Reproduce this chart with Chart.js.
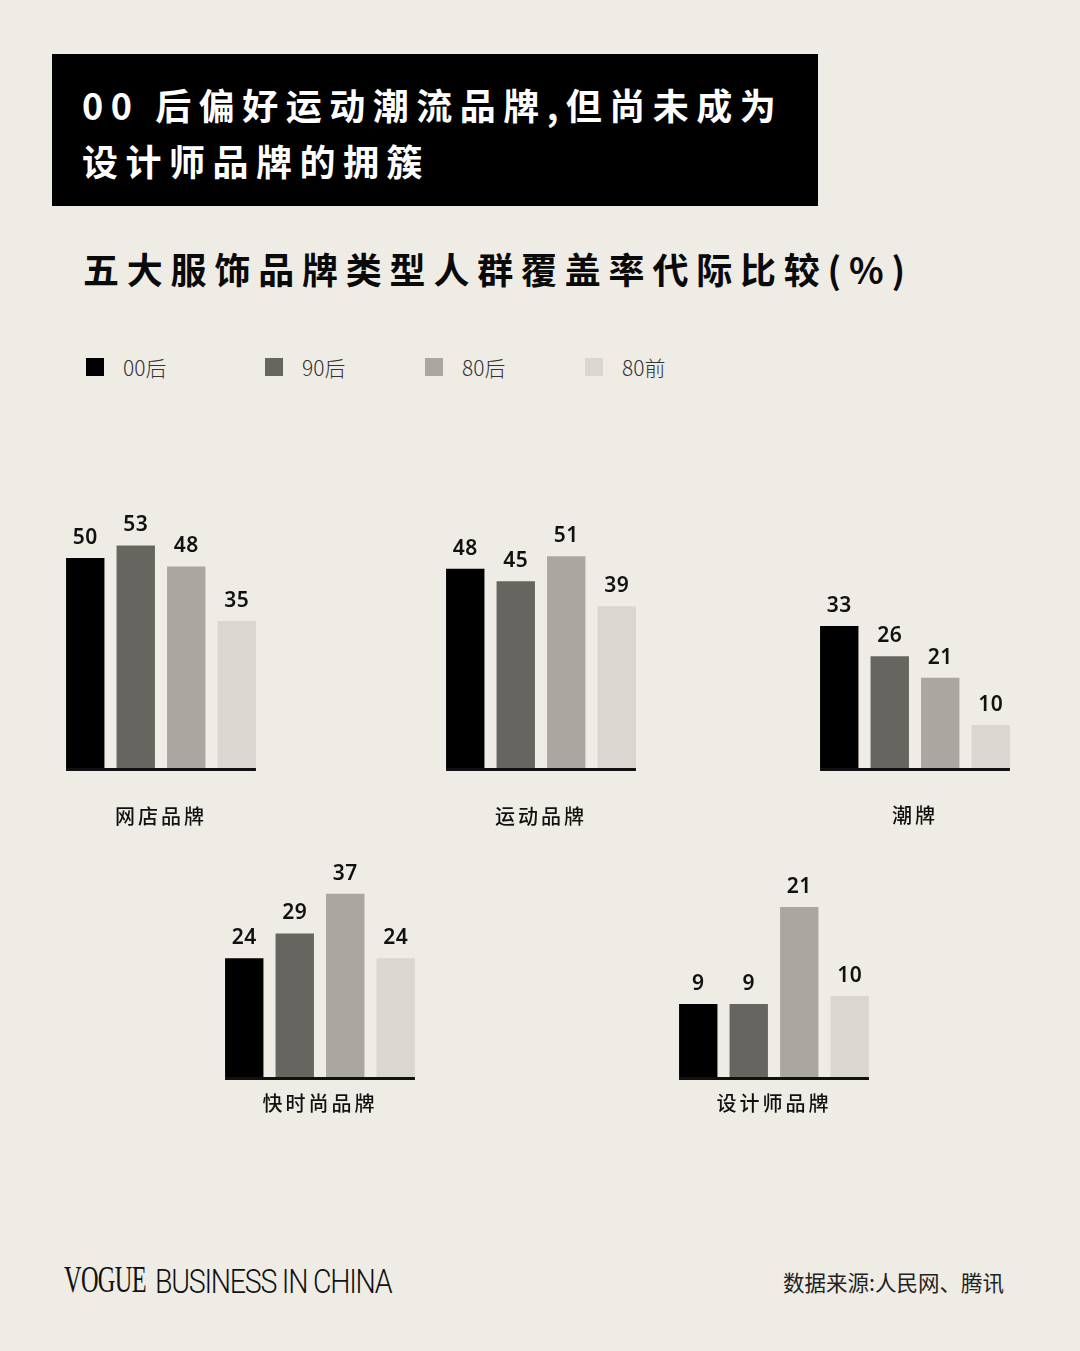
<!DOCTYPE html>
<html>
<head>
<meta charset="utf-8">
<script src="https://cdn.jsdelivr.net/npm/chart.js@4.4.1/dist/chart.umd.min.js"></script>
<style>
  body { margin: 0; width: 1080px; height: 1351px; background: #efece6; position: relative; overflow: hidden;
         font-family: "Noto Sans CJK SC", "Noto Sans", sans-serif; }
  .headline { position: absolute; left: 52px; top: 54px; width: 766px; height: 152px; background: #000; color: #fff; }
  .headline div { position: absolute; left: 30px; font-size: 36px; font-weight: 700; letter-spacing: 7.5px; line-height: 1; white-space: nowrap; }
  .subtitle { position: absolute; left: 83px; top: 250px; font-size: 36px; font-weight: 700; letter-spacing: 7.8px; line-height: 1; color: #0a0a0a; white-space: nowrap; }
  #legend { position: absolute; left: 86px; top: 354px; display: flex; }
  #legend .item { display: flex; align-items: center; width: 160px; }
  #legend .item:first-child { width: 179px; }
  #legend .box { width: 18px; height: 18px; margin-right: 19px; }
  #legend .lbl { font-size: 21px; font-weight: 300; color: #333; line-height: 26px; }
  canvas { position: absolute; }
  .brand { position: absolute; left: 64px; top: 1260px; white-space: nowrap; color: #111; line-height: 1; }
  .vogue { display: inline-block; font-family: "Liberation Serif", serif; font-size: 38px; transform: scaleX(0.64); transform-origin: left; width: 91px; letter-spacing: -1px; vertical-align: bottom; }
  .biz { display: inline-block; font-family: "Roboto", sans-serif; font-weight: 300; font-size: 34px; transform: scaleX(0.84); transform-origin: left; letter-spacing: -1.5px; vertical-align: bottom; }
  .source { position: absolute; right: 76px; top: 1266px; font-size: 21.5px; color: #222; white-space: nowrap; }
</style>
</head>
<body>
<div class="headline">
  <div style="top:32px">00 后偏好运动潮流品牌,但尚未成为</div>
  <div style="top:88px">设计师品牌的拥簇</div>
</div>
<div class="subtitle">五大服饰品牌类型人群覆盖率代际比较(%)</div>
<div id="legend"></div>

<canvas id="c0"></canvas>
<canvas id="c1"></canvas>
<canvas id="c2"></canvas>
<canvas id="c3"></canvas>
<canvas id="c4"></canvas>

<div class="brand"><span class="vogue">VOGUE</span><span class="biz">BUSINESS IN CHINA</span></div>
<div class="source">数据来源:人民网、腾讯</div>

<script>
// generations and brand types
const generations = ["00后", "90后", "80后", "80前"];
const genColors = ["#000000", "#67655f", "#aaa7a0", "#d9d7cf"];
const brandTypes = ["网店品牌", "运动品牌", "潮牌", "快时尚品牌", "设计师品牌"];

// coverage (%) per generation, in brandTypes order
const gen00 = [50, 48, 33, 24, 9];
const gen90 = [53, 45, 26, 29, 9];
const gen80 = [48, 51, 21, 37, 21];
const pre80 = [35, 39, 10, 24, 10];
const series = [gen00, gen90, gen80, pre80];

// where each small chart sits on the page
const panels = [
  { barLeft: 66,  base: 768,  top: 440, ppu: 4.2,  labelGap: 48 },
  { barLeft: 446, base: 768,  top: 440, ppu: 4.15, labelGap: 48 },
  { barLeft: 820, base: 768,  top: 440, ppu: 4.3,  labelGap: 47 },
  { barLeft: 225, base: 1077, top: 850, ppu: 4.95, labelGap: 26 },
  { barLeft: 679, base: 1077, top: 850, ppu: 8.1,  labelGap: 26 },
];

// legend
const legendEl = document.getElementById("legend");
generations.forEach((g, i) => {
  const item = document.createElement("div");
  item.className = "item";
  item.innerHTML = `<span class="box" style="background:${genColors[i]}"></span><span class="lbl">${g}</span>`;
  legendEl.appendChild(item);
});

const valueLabels = {
  id: "valueLabels",
  beforeDraw(chart) {
    chart.ctx.letterSpacing = "3px";
  },
  afterDatasetsDraw(chart) {
    const ctx = chart.ctx;
    ctx.save();
    ctx.letterSpacing = "0.5px";
    ctx.font = '600 21px "Noto Sans", sans-serif';
    ctx.fillStyle = "#111";
    ctx.textAlign = "center";
    ctx.textBaseline = "middle";
    let left = Infinity, right = -Infinity;
    chart.data.datasets.forEach((ds, i) => {
      chart.getDatasetMeta(i).data.forEach((bar, j) => {
        ctx.fillText(ds.data[j], bar.x, bar.y - 20);
        left = Math.min(left, bar.x - bar.width / 2);
        right = Math.max(right, bar.x + bar.width / 2);
      });
    });
    // baseline under the bars
    const y0 = chart.scales.y.getPixelForValue(0);
    ctx.fillStyle = "#111";
    ctx.fillRect(left, y0, right - left, 3);
    ctx.restore();
    ctx.letterSpacing = "3px";
  },
};

Chart.defaults.font.family = '"Noto Sans CJK SC", "Noto Sans", sans-serif';

panels.forEach((p, k) => {
  const canvas = document.getElementById("c" + k);
  const areaH = p.base - p.top;
  const pad = p.labelGap - 12;
  canvas.width = 242;
  canvas.height = areaH + 24 + pad * 2;
  canvas.style.left = (p.barLeft - 26) + "px";
  canvas.style.top = p.top + "px";

  new Chart(canvas, {
    type: "bar",
    data: {
      labels: [brandTypes[k]],
      datasets: series.map((s, i) => ({
        label: generations[i],
        data: [s[k]],
        backgroundColor: genColors[i],
        borderWidth: 0,
      })),
    },
    options: {
      responsive: false,
      animation: false,
      devicePixelRatio: 1,
      layout: { padding: { left: 20, right: 20, top: 0, bottom: 0 } },
      datasets: { bar: { barPercentage: 0.76, categoryPercentage: 1 } },
      scales: {
        x: {
          grid: { display: false, drawTicks: false },
          border: { display: false },
          ticks: { padding: pad, color: "#111", font: { size: 20, weight: 500 } },
        },
        y: { display: false, min: 0, max: areaH / p.ppu },
      },
      plugins: { legend: { display: false }, tooltip: { enabled: false } },
    },
    plugins: [valueLabels],
  });
});
</script>
</body>
</html>
